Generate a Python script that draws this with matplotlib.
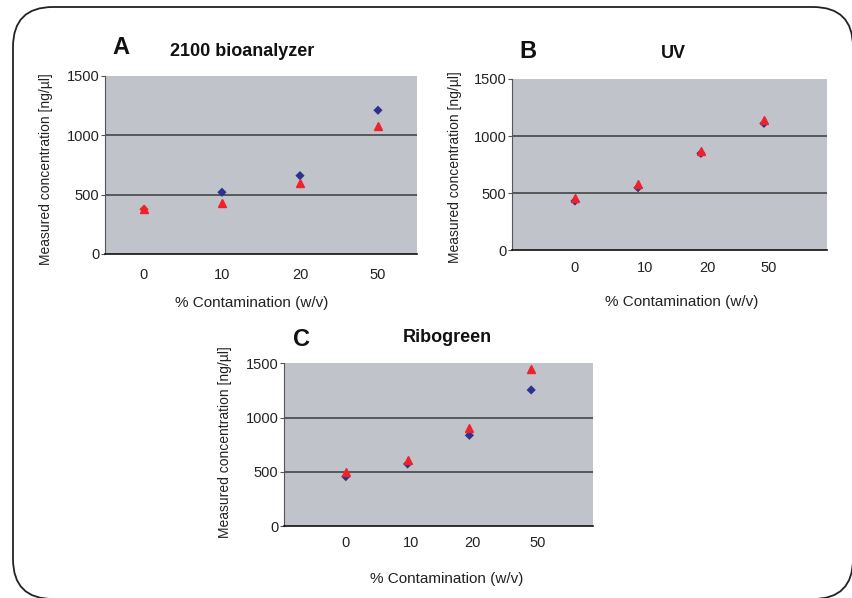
import matplotlib.pyplot as plt
from matplotlib.patches import FancyBboxPatch

plt.rcParams['font.family'] = ['Liberation Sans Narrow', 'Liberation Sans', 'DejaVu Sans']

# data
categories = ['0', '10', '20', '50']
bio_blue = [377, 520, 660, 1211]
bio_red = [377, 430, 596, 1081]
uv_blue = [430, 547, 848, 1111]
uv_red = [459, 579, 868, 1140]
ribo_blue = [455, 572, 836, 1254]
ribo_red = [500, 608, 906, 1447]

BLUE = '#2E3192'
RED = '#EE2228'
FACE = '#C0C3CA'

fig = plt.figure(figsize=(8.52, 5.98), dpi=100)

# rounded frame around the whole figure (pixel coords)
bg = fig.add_axes([0, 0, 1, 1], zorder=-10)
bg.set_xlim(0, 852)
bg.set_ylim(598, 0)
bg.axis('off')
bg.add_patch(FancyBboxPatch((13, 7), 840, 592,
                            boxstyle='round,pad=0,rounding_size=40',
                            fc='white', ec='#222222', lw=1.3, clip_on=False))


def panel(rect, blue, red, xpos, tickpos, xlim, pad, ylab_xy, xlab_xy,
          blue_colors=None):
    ax = fig.add_axes(rect)
    ax.set_facecolor(FACE)
    ax.set_xlim(*xlim)
    ax.set_ylim(0, 1500)
    ax.set_yticks([0, 500, 1000, 1500])
    ax.set_xticks(tickpos)
    ax.set_xticklabels(categories)
    for y in (500, 1000):
        ax.axhline(y, color='#3a3a3a', lw=1.1, zorder=1)
    if blue_colors is None:
        blue_colors = [BLUE] * len(blue)
    ax.scatter(xpos, blue, marker='D', c=blue_colors, s=22, lw=0, zorder=3)
    ax.plot(xpos, red, '^', color=RED, ms=6, mec=RED, zorder=4)
    for s in ('top', 'right'):
        ax.spines[s].set_visible(False)
    ax.spines['left'].set_color('#555555')
    ax.spines['bottom'].set_color('#111111')
    ax.spines['bottom'].set_linewidth(1.2)
    ax.tick_params(axis='x', length=0, pad=pad, labelsize=10.5, colors='#222222')
    ax.tick_params(axis='y', length=3, width=0.8, color='#555555', pad=1,
                   labelsize=10.5, labelcolor='#222222')
    ax.set_ylabel('Measured concentration [ng/µl]', fontsize=10, color='#222222')
    ax.set_xlabel('% Contamination (w/v)', fontsize=11, color='#222222')
    ax.yaxis.set_label_coords(*ylab_xy)
    ax.xaxis.set_label_coords(*xlab_xy)
    return ax


panel([0.1232, 0.5753, 0.3662, 0.2977], bio_blue, bio_red,
      [0.5, 1.5, 2.5, 3.5], [0.5, 1.5, 2.5, 3.5], (0, 4), 10,
      (-0.167, 0.478), (0.471, -0.236), blue_colors=[RED, BLUE, BLUE, BLUE])
panel([0.6009, 0.5819, 0.3697, 0.2860], uv_blue, uv_red,
      [1, 2, 3, 4], [1, 2.12, 3.1, 4.08], (0, 5), 8,
      (-0.159, 0.485), (0.539, -0.263))
panel([0.3333, 0.1204, 0.3627, 0.2721], ribo_blue, ribo_red,
      [1, 2, 3, 4], [1, 2.06, 3.05, 4.1], (0, 5), 7,
      (-0.169, 0.516), (0.527, -0.281))

# panel letters and titles (pixel positions)
def ftext(x, y, s, size):
    fig.text(x / 852, 1 - y / 598, s, ha='center', va='center',
             fontsize=size, fontweight='bold', color='#111111')

ftext(121, 48, 'A', 17)
ftext(242, 52, '2100 bioanalyzer', 13)
ftext(528, 51, 'B', 17)
ftext(673, 54, 'UV', 13)
ftext(301, 340, 'C', 17)
ftext(447, 337, 'Ribogreen', 13)

fig.savefig('out.png', dpi=100)
